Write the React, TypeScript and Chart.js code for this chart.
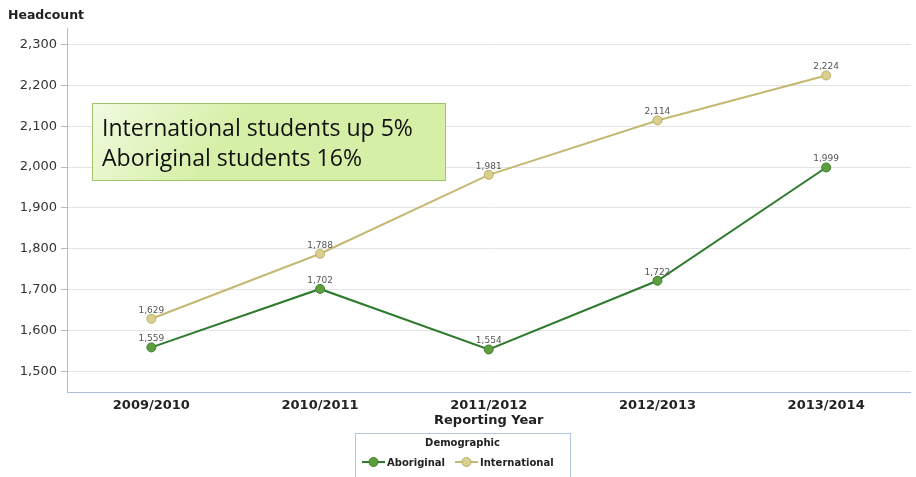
import React, { useEffect, useRef } from "react";
import { Chart, registerables } from "chart.js";

Chart.register(...registerables);

const categories = ["2009/2010", "2010/2011", "2011/2012", "2012/2013", "2013/2014"];
const aboriginal = [1559, 1702, 1554, 1722, 1999];
const international = [1629, 1788, 1981, 2114, 2224];
const yTicks = [1500, 1600, 1700, 1800, 1900, 2000, 2100, 2200, 2300];
const seriesNames = ["Aboriginal", "International"];
const annotationLines = ["International students up 5%", "Aboriginal students 16%"];

const W = 916;
const H = 477;

const ABO_LINE = "#2e7b30";
const ABO_FILL = "#5f9e3f";
const ABO_BORDER = "#3d7f2c";
const INT_LINE = "#c4b872";
const INT_FILL = "#d8d08c";
const INT_BORDER = "#b9ad62";

const fmt = (v: number) => v.toLocaleString("en-US");

export default function App() {
  const ref = useRef<HTMLCanvasElement | null>(null);

  useEffect(() => {
    const canvas = ref.current;
    if (!canvas) return;

    const extras = {
      id: "extras",
      afterDatasetsDraw(chart: any) {
        const ctx = chart.ctx;
        ctx.save();
        ctx.font = "9px 'DejaVu Sans'";
        ctx.fillStyle = "#555";
        ctx.textAlign = "center";
        ctx.textBaseline = "bottom";
        chart.data.datasets.forEach((ds: any, i: number) => {
          const meta = chart.getDatasetMeta(i);
          meta.data.forEach((pt: any, j: number) => {
            ctx.fillText(fmt(ds.data[j]), pt.x, pt.y - 4);
          });
        });
        ctx.restore();
      },
      afterDraw(chart: any) {
        const ctx = chart.ctx;
        const area = chart.chartArea;
        ctx.save();
        // y title
        ctx.font = "bold 12.5px 'DejaVu Sans'";
        ctx.fillStyle = "#222";
        ctx.textAlign = "left";
        ctx.textBaseline = "middle";
        ctx.fillText("Headcount", 8, 16);
        // x title
        ctx.textAlign = "center";
        ctx.font = "bold 13px 'DejaVu Sans'";
        ctx.fillText("Reporting Year", (area.left + area.right) / 2, 421);

        // annotation box
        const bx = 92, by = 103, bw = 353, bh = 77;
        const g = ctx.createLinearGradient(bx, by, bx + bw * 0.3, by + bh);
        g.addColorStop(0, "#f1fbe0");
        g.addColorStop(1, "#d5efa6");
        ctx.fillStyle = g;
        ctx.fillRect(bx, by, bw, bh);
        ctx.strokeStyle = "#a3c06a";
        ctx.lineWidth = 1;
        ctx.strokeRect(bx + 0.5, by + 0.5, bw, bh);
        ctx.fillStyle = "#111";
        ctx.textAlign = "left";
        ctx.textBaseline = "alphabetic";
        ctx.font = "20px 'Open Sans'";
        const m = ctx.measureText(annotationLines[0]).width;
        const fs = 20 * (311 / m);
        ctx.font = `${fs}px 'Open Sans'`;
        ctx.fillText(annotationLines[0], 102, 136);
        ctx.fillText(annotationLines[1], 102, 166);

        // legend box
        const lx = 355, ly = 433, lw = 215, lh = 50;
        ctx.strokeStyle = "#b3c6df";
        ctx.strokeRect(lx + 0.5, ly + 0.5, lw, lh);
        ctx.fillStyle = "#222";
        ctx.textAlign = "center";
        ctx.textBaseline = "middle";
        ctx.font = "bold 10px 'DejaVu Sans'";
        ctx.fillText("Demographic", lx + lw / 2, 443);
        const items = [
          { name: seriesNames[0], line: ABO_LINE, fill: ABO_FILL, border: ABO_BORDER, x: 362 },
          { name: seriesNames[1], line: INT_LINE, fill: INT_FILL, border: INT_BORDER, x: 455 },
        ];
        const iy = 462;
        items.forEach((it) => {
          ctx.strokeStyle = it.line;
          ctx.lineWidth = 2;
          ctx.beginPath();
          ctx.moveTo(it.x, iy);
          ctx.lineTo(it.x + 23, iy);
          ctx.stroke();
          ctx.beginPath();
          ctx.arc(it.x + 11.5, iy, 4.5, 0, Math.PI * 2);
          ctx.fillStyle = it.fill;
          ctx.fill();
          ctx.lineWidth = 1;
          ctx.strokeStyle = it.border;
          ctx.stroke();
          ctx.fillStyle = "#222";
          ctx.textAlign = "left";
          ctx.font = "bold 10px 'DejaVu Sans'";
          ctx.fillText(it.name, it.x + 25, iy + 1);
        });
        ctx.restore();
      },
    };

    const chart = new Chart(canvas, {
      type: "line",
      data: {
        labels: categories,
        datasets: [
          {
            label: seriesNames[0],
            data: aboriginal,
            borderColor: ABO_LINE,
            backgroundColor: ABO_FILL,
            pointBackgroundColor: ABO_FILL,
            pointBorderColor: ABO_BORDER,
            pointBorderWidth: 1,
            pointRadius: 4.5,
            borderWidth: 2,
            tension: 0,
          },
          {
            label: seriesNames[1],
            data: international,
            borderColor: INT_LINE,
            backgroundColor: INT_FILL,
            pointBackgroundColor: INT_FILL,
            pointBorderColor: INT_BORDER,
            pointBorderWidth: 1,
            pointRadius: 4.5,
            borderWidth: 2,
            tension: 0,
          },
        ],
      },
      options: {
        responsive: false,
        animation: false,
        layout: { padding: { top: 28, right: 4, left: 0, bottom: 0 } },
        plugins: {
          legend: { display: false },
          tooltip: { enabled: false },
          title: { display: false },
        },
        scales: {
          x: {
            offset: true,
            grid: { display: false, drawTicks: false },
            border: { color: "#a9bfdc", width: 1 },
            ticks: {
              color: "#222",
              font: { family: "'DejaVu Sans'", size: 13, weight: "bold" },
              padding: 6,
              maxRotation: 0,
            },
            afterFit(scale: any) {
              scale.height = 85;
            },
          },
          y: {
            min: 1450,
            max: 2340,
            grid: { color: "#e4e4e4", tickColor: "#b8b8b8", tickLength: 6 },
            border: { color: "#a9bfdc", width: 1 },
            ticks: {
              color: "#333",
              font: { family: "'DejaVu Sans'", size: 13 },
              padding: 4,
              callback: (v: any) => fmt(Number(v)),
            },
            afterBuildTicks(scale: any) {
              scale.ticks = yTicks.map((v) => ({ value: v }));
            },
            afterFit(scale: any) {
              scale.width = 67;
            },
          },
        },
      },
      plugins: [extras],
    } as any);

    return () => chart.destroy();
  }, []);

  return (
    <div style={{ position: "absolute", left: 0, top: 0, width: W, height: H, background: "#fff" }}>
      <canvas ref={ref} width={W} height={H} style={{ width: W, height: H, display: "block" }} />
    </div>
  );
}
